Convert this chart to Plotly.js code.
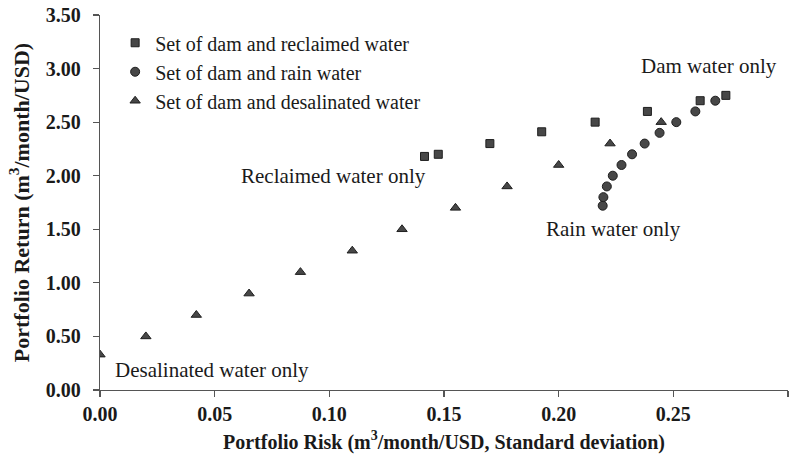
<!DOCTYPE html>
<html>
<head>
<meta charset="utf-8">
<script src="https://cdn.plot.ly/plotly-3.0.1.min.js"></script>
<style>html,body{margin:0;padding:0;background:#fff;}#chart{width:799px;height:458px;}</style>
</head>
<body>
<div id="chart"></div>
<script>
// Set of dam and reclaimed water
var reclaimedRisk   = [0.1415, 0.1475, 0.170, 0.1926, 0.2159, 0.2387, 0.2617, 0.2729];
var reclaimedReturn = [2.18, 2.20, 2.30, 2.41, 2.50, 2.60, 2.70, 2.75];
// Set of dam and rain water
var rainRisk   = [0.2192, 0.2195, 0.2210, 0.2236, 0.2274, 0.2320, 0.2375, 0.2440, 0.2513, 0.2596, 0.2683];
var rainReturn = [1.72, 1.80, 1.90, 2.00, 2.10, 2.20, 2.30, 2.40, 2.50, 2.60, 2.70];
// Set of dam and desalinated water
var desalRisk   = [0.000, 0.020, 0.042, 0.065, 0.0874, 0.110, 0.1317, 0.155, 0.1775, 0.200, 0.2224, 0.2447];
var desalReturn = [0.33, 0.50, 0.70, 0.90, 1.10, 1.30, 1.50, 1.70, 1.90, 2.10, 2.30, 2.50];

var seriesNames = ["Set of dam and reclaimed water", "Set of dam and rain water", "Set of dam and desalinated water"];

var xTicks = [0, 0.05, 0.10, 0.15, 0.20, 0.25, 0.30];
var yTicks = [0, 0.5, 1.0, 1.5, 2.0, 2.5, 3.0, 3.5];

var labelTexts = ["Dam water only", "Reclaimed water only", "Rain water only", "Desalinated water only"];
var labelX = [0.2656, 0.102, 0.224, 0.049];
var labelY = [3.02, 2.00, 1.50, 0.19];

var serif = "Liberation Serif, Times New Roman, serif";
var mk = function(sym, sz){ return {symbol: sym, size: sz, color: "#474747", line: {color: "#1e1e1e", width: 1}}; };

var traces = [
  {x: rainRisk, y: rainReturn, name: seriesNames[1], type: "scatter", mode: "markers", marker: mk("circle", 9), legendrank: 2},
  {x: desalRisk, y: desalReturn, name: seriesNames[2], type: "scatter", mode: "markers", marker: mk("triangle-up", 9), legendrank: 3},
  {x: reclaimedRisk, y: reclaimedReturn, name: seriesNames[0], type: "scatter", mode: "markers", marker: mk("square", 8), legendrank: 1}
];

var annotations = labelTexts.map(function(t, i){
  return {x: labelX[i], y: labelY[i], xref: "x", yref: "y", text: t, showarrow: false,
          font: {family: serif, size: 21, color: "#1a1a1a"}};
});

var axisCommon = {
  showgrid: false, zeroline: false, showline: true, linecolor: "#555", linewidth: 1.2,
  ticks: "outside", ticklen: 6, tickcolor: "#555", tickwidth: 1.2,
  tickfont: {family: serif, size: 20, color: "#1a1a1a", weight: "bold"}
};

var layout = {
  width: 799, height: 458,
  margin: {l: 100, r: 11, t: 15, b: 68},
  paper_bgcolor: "#fff", plot_bgcolor: "#fff",
  showlegend: true,
  legend: {x: 0.022, y: 0.978, xanchor: "left", yanchor: "top", bgcolor: "rgba(0,0,0,0)",
           font: {family: serif, size: 20, color: "#1a1a1a"}, traceorder: "normal", itemsizing: "trace"},
  xaxis: Object.assign({}, axisCommon, {range: [0, 0.30], tickvals: xTicks, tickformat: ".2f",
          title: {text: "Portfolio Risk (m<sup>3</sup>/month/USD, Standard deviation)", standoff: 10,
                  font: {family: serif, size: 20, color: "#1a1a1a", weight: "bold"}}}),
  yaxis: Object.assign({}, axisCommon, {range: [0, 3.5], tickvals: yTicks, tickformat: ".2f", ticklabelstandoff: 8,
          title: {text: "Portfolio Return (m<sup>3</sup>/month/USD)", standoff: 10,
                  font: {family: serif, size: 22, color: "#1a1a1a", weight: "bold"}}}),
  annotations: annotations
};

Plotly.newPlot("chart", traces, layout, {displayModeBar: false, staticPlot: true});
</script>
</body>
</html>
